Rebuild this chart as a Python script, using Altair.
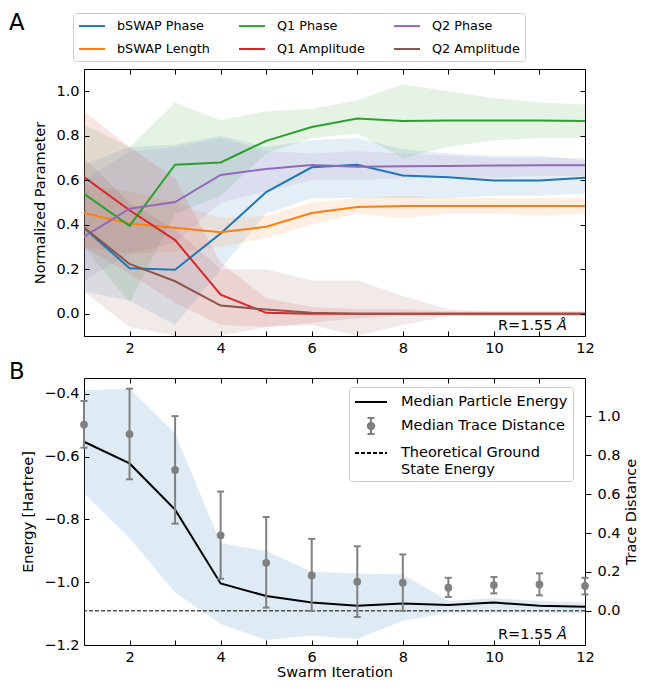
import altair as alt
import pandas as pd

FONT = "DejaVu Sans"
W, H = 501, 267

# ---------------- data ----------------
iterations = list(range(1, 13))

series_names = ["bSWAP Phase", "bSWAP Length", "Q1 Phase", "Q1 Amplitude", "Q2 Phase", "Q2 Amplitude"]
series_colors = ["#1f77b4", "#ff7f0e", "#2ca02c", "#d62728", "#9467bd", "#8c564b"]

bswap_phase_med = [0.386, 0.205, 0.198, 0.361, 0.547, 0.658, 0.670, 0.621, 0.614, 0.599, 0.599, 0.611]
bswap_phase_lo = [0.10, 0.06, -0.05, 0.20, 0.45, 0.52, 0.52, 0.52, 0.52, 0.53, 0.53, 0.54]
bswap_phase_hi = [0.67, 0.75, 0.76, 0.80, 0.75, 0.78, 0.79, 0.74, 0.72, 0.71, 0.71, 0.69]

bswap_length_med = [0.453, 0.406, 0.386, 0.366, 0.391, 0.453, 0.480, 0.484, 0.484, 0.484, 0.484, 0.484]
bswap_length_lo = [0.30, 0.27, 0.28, 0.30, 0.34, 0.40, 0.45, 0.43, 0.45, 0.45, 0.44, 0.45]
bswap_length_hi = [0.58, 0.55, 0.50, 0.43, 0.44, 0.50, 0.52, 0.53, 0.52, 0.52, 0.52, 0.52]

q1_phase_med = [0.539, 0.395, 0.670, 0.680, 0.777, 0.839, 0.877, 0.866, 0.869, 0.869, 0.869, 0.866]
q1_phase_lo = [0.30, 0.05, 0.45, 0.53, 0.72, 0.79, 0.81, 0.70, 0.75, 0.78, 0.79, 0.79]
q1_phase_hi = [0.85, 0.75, 0.95, 0.87, 0.91, 0.92, 0.96, 1.03, 1.00, 0.97, 0.95, 0.94]

q1_amp_med = [0.614, 0.465, 0.331, 0.086, 0.004, 0.0, 0.0, 0.0, 0.0, 0.0, 0.0, 0.0]
q1_amp_lo = [0.30, 0.18, 0.05, -0.05, -0.06, -0.04, -0.02, -0.01, -0.01, -0.01, -0.01, -0.01]
q1_amp_hi = [0.91, 0.75, 0.61, 0.23, 0.07, 0.03, 0.02, 0.02, 0.01, 0.01, 0.01, 0.01]

q2_phase_med = [0.346, 0.472, 0.502, 0.624, 0.651, 0.669, 0.661, 0.663, 0.664, 0.666, 0.667, 0.667]
q2_phase_lo = [0.15, 0.27, 0.32, 0.50, 0.55, 0.60, 0.60, 0.61, 0.61, 0.61, 0.62, 0.62]
q2_phase_hi = [0.60, 0.73, 0.75, 0.79, 0.73, 0.72, 0.73, 0.72, 0.71, 0.70, 0.70, 0.70]

q2_amp_med = [0.388, 0.224, 0.146, 0.037, 0.019, 0.004, 0.0, 0.0, 0.0, 0.0, 0.0, 0.0]
q2_amp_lo = [0.10, -0.06, -0.10, -0.10, -0.06, -0.05, -0.10, -0.05, -0.01, -0.01, -0.01, -0.01]
q2_amp_hi = [0.70, 0.50, 0.38, 0.20, 0.20, 0.15, 0.15, 0.08, 0.02, 0.01, 0.01, 0.01]

energy_median = [-0.553, -0.622, -0.769, -1.004, -1.044, -1.065, -1.075, -1.068, -1.073, -1.065, -1.075, -1.078]
energy_lo = [-0.717, -0.859, -1.033, -1.133, -1.184, -1.170, -1.181, -1.123, -1.097, -1.097, -1.097, -1.098]
energy_hi = [-0.389, -0.384, -0.527, -0.875, -0.901, -0.967, -0.972, -0.975, -1.060, -1.051, -1.060, -1.065]
ground_energy = [-1.0913]

trace_median = [0.957, 0.908, 0.724, 0.388, 0.247, 0.182, 0.150, 0.145, 0.119, 0.133, 0.136, 0.128]
trace_lo = [0.838, 0.676, 0.448, 0.165, 0.017, 0.000, -0.031, 0.000, 0.072, 0.090, 0.080, 0.085]
trace_hi = [1.078, 1.141, 1.000, 0.613, 0.482, 0.370, 0.332, 0.290, 0.170, 0.174, 0.193, 0.170]

legend_items = ["Median Particle Energy", "Median Trace Distance", "Theoretical Ground State Energy"]
panel_labels = ["A", "B"]
r_label = ["R=1.55", "Å"]

x_ticks = iterations
top_y_ticks = [0.0, 0.2, 0.4, 0.6, 0.8, 1.0]
energy_ticks = [-1.2, -1.0, -0.8, -0.6, -0.4]
trace_ticks = [0.0, 0.2, 0.4, 0.6, 0.8, 1.0]

# ---------------- tables ----------------
top_series = [
    (bswap_phase_med, bswap_phase_lo, bswap_phase_hi),
    (bswap_length_med, bswap_length_lo, bswap_length_hi),
    (q1_phase_med, q1_phase_lo, q1_phase_hi),
    (q1_amp_med, q1_amp_lo, q1_amp_hi),
    (q2_phase_med, q2_phase_lo, q2_phase_hi),
    (q2_amp_med, q2_amp_lo, q2_amp_hi),
]
rows = []
for name, (m, lo, hi) in zip(series_names, top_series):
    for i, x in enumerate(iterations):
        rows.append({"series": name, "x": x, "med": m[i], "lo": lo[i], "hi": hi[i]})
top_df = pd.DataFrame(rows)

bot_df = pd.DataFrame({
    "x": iterations, "E": energy_median, "Elo": energy_lo, "Ehi": energy_hi,
    "T": trace_median, "Tlo": trace_lo, "Thi": trace_hi,
})
cap_df = pd.DataFrame({"x": iterations + iterations, "T": trace_lo + trace_hi})
ground_df = pd.DataFrame({"E": ground_energy})
legend_df = pd.DataFrame({"item": legend_items, "x": [None] * 3, "E": [None] * 3})

# ---------------- scales / axes ----------------
x_scale = alt.Scale(domain=[1, 12], nice=False, zero=False)
top_y_scale = alt.Scale(domain=[-0.1, 1.1], nice=False, zero=False)
e_scale = alt.Scale(domain=[-1.2, -0.35], nice=False, zero=False)
t_scale = alt.Scale(domain=[-0.175, 1.196], nice=False, zero=False)

even_expr = "datum.value % 2 == 0 ? datum.label : ''"


def ticks_only(orient, values):
    return alt.Axis(orient=orient, values=values, labels=False, ticks=True, tickSize=5,
                    offset=-5, domain=False, grid=False, title=None, zindex=1)


def x_axis(title):
    kw = dict(orient="bottom", values=x_ticks, labelExpr=even_expr, tickSize=5, offset=-5,
              labelPadding=5, domain=False, grid=False, labelFlush=False, labelOverlap=False,
              zindex=1)
    if title:
        return alt.Axis(title=title, titlePadding=2, **kw)
    return alt.Axis(title=None, **kw)


def y_left(values, title):
    return alt.Axis(orient="left", values=values, format=".1f", tickSize=5, offset=-5,
                    labelPadding=5, domain=False, grid=False, title=title, titlePadding=8,
                    labelOverlap=False, zindex=1)


color_scale = alt.Scale(domain=series_names, range=series_colors)

top_legend = alt.Legend(
    orient="none", legendX=-11, legendY=-56, columns=3, gridAlign="each",
    symbolType="M-1,0L2.714,0", symbolSize=196, symbolStrokeWidth=2, symbolOpacity=1,
    labelFontSize=12.8, labelOffset=23, rowPadding=8, columnPadding=25, padding=5,
    strokeColor="#cccccc", fillColor="white", cornerRadius=3, title=None, labelLimit=300,
    labelFont=FONT, labelColor="black",
)

# ---------------- top panel ----------------
top_bands = alt.Chart(top_df).mark_area(opacity=0.12, clip=True).encode(
    x=alt.X("x:Q", scale=x_scale, axis=x_axis(None)),
    y=alt.Y("lo:Q", scale=top_y_scale, axis=y_left(top_y_ticks, "Normalized Parameter"), stack=None),
    y2="hi:Q",
    color=alt.Color("series:N", scale=color_scale, legend=None),
)

top_lines = alt.Chart(top_df).mark_line(strokeWidth=2, clip=True).encode(
    x=alt.X("x:Q", scale=x_scale, axis=ticks_only("top", x_ticks)),
    y=alt.Y("med:Q", scale=top_y_scale, axis=ticks_only("right", top_y_ticks)),
    color=alt.Color("series:N", scale=color_scale, legend=top_legend),
)


def panel_text(label):
    return alt.Chart(pd.DataFrame({"t": [label]})).mark_text(
        align="left", baseline="top", fontSize=22.7, font=FONT, color="black"
    ).encode(text="t:N", x=alt.value(-75), y=alt.value(-56.6 if label == "A" else -17.3))


def r_texts():
    t1 = alt.Chart(pd.DataFrame({"t": [r_label[0]]})).mark_text(
        align="right", baseline="alphabetic", fontSize=14.5, font=FONT, color="black"
    ).encode(text="t:N", x=alt.value(468.5), y=alt.value(H - 6.5))
    t2 = alt.Chart(pd.DataFrame({"t": [r_label[1]]})).mark_text(
        align="left", baseline="alphabetic", fontSize=14.5, font=FONT, fontStyle="italic", color="black"
    ).encode(text="t:N", x=alt.value(473), y=alt.value(H - 6.5))
    return [t1, t2]


top = alt.layer(top_bands, top_lines, panel_text(panel_labels[0]), *r_texts()).resolve_scale(
    color="independent"
).resolve_legend(color="independent").resolve_axis(
    x="independent", y="independent"
).properties(width=W, height=H)

# ---------------- bottom panel ----------------
e_band = alt.Chart(bot_df).mark_area(color="#1f77b4", opacity=0.15).encode(
    x=alt.X("x:Q", scale=x_scale, axis=x_axis("Swarm Iteration")),
    y=alt.Y("Elo:Q", scale=e_scale, axis=y_left(energy_ticks, "Energy [Hartree]"), stack=None),
    y2="Ehi:Q",
)
e_line = alt.Chart(bot_df).mark_line(color="black", strokeWidth=2).encode(
    x=alt.X("x:Q", scale=x_scale, axis=None),
    y=alt.Y("E:Q", scale=e_scale, axis=None),
)
g_rule = alt.Chart(ground_df).mark_rule(color="black", strokeWidth=1, strokeDash=[4, 2]).encode(
    y=alt.Y("E:Q", scale=e_scale, axis=None),
)

line_path = "M-1,0L2.556,0"
err_path = ("M0.778,-0.889L0.778,0.889M0.389,-0.889L1.167,-0.889M0.389,0.889L1.167,0.889"
            "M0.418,0A0.36,0.36,0,1,0,1.138,0A0.36,0.36,0,1,0,0.418,0Z")
bot_legend = alt.Legend(
    orient="none", legendX=265, legendY=9, symbolSize=324, symbolStrokeWidth=2, symbolOpacity=1,
    labelFontSize=14.5, labelOffset=27, rowPadding=4, padding=5, strokeColor="#cccccc",
    fillColor="white", cornerRadius=3, title=None, labelLimit=300, labelFont=FONT,
    labelColor="black", direction="vertical",
    labelExpr="datum.label == 'Theoretical Ground State Energy' ? ['Theoretical Ground', 'State Energy'] : datum.label",
)
leg_layer = alt.Chart(legend_df).mark_point(filled=True, opacity=1, strokeWidth=2).encode(
    x=alt.X("x:Q", scale=x_scale, axis=None),
    y=alt.Y("E:Q", scale=e_scale, axis=None),
    fill=alt.Fill("item:N", scale=alt.Scale(domain=legend_items, range=["black", "#808080", "black"]), legend=bot_legend),
    stroke=alt.Stroke("item:N", scale=alt.Scale(domain=legend_items, range=["black", "#808080", "black"]), legend=bot_legend),
    shape=alt.Shape("item:N", scale=alt.Scale(domain=legend_items, range=[line_path, err_path, line_path]), legend=bot_legend),
    strokeDash=alt.StrokeDash("item:N", scale=alt.Scale(domain=legend_items, range=[[1, 0], [1, 0], [4, 2]]), legend=bot_legend),
)

t_err = alt.Chart(bot_df).mark_rule(color="#808080", strokeWidth=2, opacity=1).encode(
    x=alt.X("x:Q", scale=x_scale, axis=ticks_only("top", x_ticks)),
    y=alt.Y("Tlo:Q", scale=t_scale, axis=alt.Axis(
        orient="right", values=trace_ticks, format=".1f", tickSize=6, labelPadding=6, domain=False,
        grid=False, title="Trace Distance", titleAngle=270, titleBaseline="top", titlePadding=4,
        labelOverlap=False)),
    y2="Thi:Q",
)
t_caps = alt.Chart(cap_df).mark_tick(orient="horizontal", size=7, thickness=2, color="#808080", opacity=1).encode(
    x=alt.X("x:Q", scale=x_scale, axis=None),
    y=alt.Y("T:Q", scale=t_scale, axis=None),
)
t_pts = alt.Chart(bot_df).mark_circle(size=60, color="#808080", opacity=1).encode(
    x=alt.X("x:Q", scale=x_scale, axis=None),
    y=alt.Y("T:Q", scale=t_scale, axis=None),
)

bottom = alt.layer(
    e_band, e_line, g_rule, leg_layer, t_err, t_caps, t_pts,
    panel_text(panel_labels[1]), *r_texts()
).resolve_scale(y="independent").resolve_axis(
    x="independent", y="independent"
).properties(width=W, height=H)

chart = alt.vconcat(top, bottom, spacing=42, bounds="flush").resolve_scale(
    color="independent", fill="independent", stroke="independent", shape="independent",
    strokeDash="independent"
).resolve_legend(
    color="independent", fill="independent", stroke="independent", shape="independent",
    strokeDash="independent"
).properties(
    padding={"left": 0, "top": 3, "right": 0, "bottom": 0}
).configure(font=FONT).configure_view(
    stroke="black", strokeWidth=1
).configure_axis(
    labelFont=FONT, titleFont=FONT, labelFontSize=14.5, titleFontSize=14.5,
    titleFontWeight="normal", labelColor="black", titleColor="black",
    tickColor="black", tickWidth=1,
)

chart.save("out.html", embed_options={"renderer": "svg", "actions": False})
